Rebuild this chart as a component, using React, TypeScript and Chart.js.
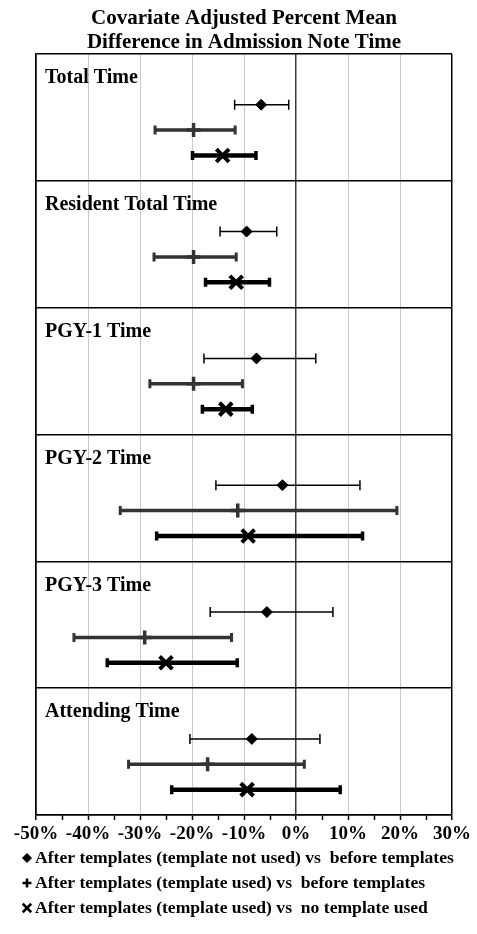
import React, { useEffect, useRef } from "react";
import { Chart, registerables } from "chart.js";
import { drawPoint } from "chart.js/helpers";

Chart.register(...registerables);

const chartTitle = ["Covariate Adjusted Percent Mean", "Difference in Admission Note Time"];
const panels = ["Total Time", "Resident Total Time", "PGY-1 Time", "PGY-2 Time", "PGY-3 Time", "Attending Time"];
const rowSlots = [2, 3, 4];
const panelUnits = 5;

const seriesNames = [
  "After templates (template not used) vs  before templates",
  "After templates (template used) vs  before templates",
  "After templates (template used) vs  no template used",
];

const notUsedMean = [-6.7, -9.5, -7.6, -2.6, -5.6, -8.5];
const notUsedLow = [-11.8, -14.6, -17.7, -15.4, -16.5, -20.4];
const notUsedHigh = [-1.4, -3.7, 3.8, 12.3, 7.1, 4.6];

const usedMean = [-19.7, -19.7, -19.7, -11.2, -29.1, -17.0];
const usedLow = [-27.1, -27.3, -28.1, -33.8, -42.7, -32.2];
const usedHigh = [-11.7, -11.5, -10.3, 19.4, -12.4, 1.6];

const vsNoneMean = [-14.1, -11.5, -13.5, -9.2, -25.0, -9.4];
const vsNoneLow = [-19.9, -17.4, -18.0, -26.8, -36.3, -23.9];
const vsNoneHigh = [-7.7, -5.1, -8.4, 12.8, -11.3, 8.5];

const xMin = -50;
const xMax = 30;

const FONT = "'Liberation Serif', 'Times New Roman', serif";

type Style = {
  color: string;
  pointStyle: string;
  radius: number;
  markerWidth: number;
  lineWidth: number;
  capWidth: number;
  capHalf: number;
  legendRadius: number;
  legendWidth: number;
};

const styles: Style[] = [
  { color: "#000000", pointStyle: "rectRot", radius: 5.5, markerWidth: 1, lineWidth: 1.5, capWidth: 1.5, capHalf: 5, legendRadius: 4.5, legendWidth: 1 },
  { color: "#333333", pointStyle: "cross", radius: 7, markerWidth: 3.5, lineWidth: 3.5, capWidth: 3, capHalf: 4.5, legendRadius: 4.5, legendWidth: 2.5 },
  { color: "#000000", pointStyle: "crossRot", radius: 9, markerWidth: 4, lineWidth: 4.5, capWidth: 3.5, capHalf: 4.5, legendRadius: 6, legendWidth: 2.5 },
];

const means = [notUsedMean, usedMean, vsNoneMean];
const lows = [notUsedLow, usedLow, vsNoneLow];
const highs = [notUsedHigh, usedHigh, vsNoneHigh];

const forestPlugin = {
  id: "forest",
  beforeDatasetsDraw(chart: any) {
    const { ctx, scales } = chart;
    const xs = scales.x;
    chart.data.datasets.forEach((ds: any, di: number) => {
      const meta = chart.getDatasetMeta(di);
      const st = styles[di];
      meta.data.forEach((pt: any, i: number) => {
        const y = pt.y;
        const x1 = xs.getPixelForValue(ds.lows[i]);
        const x2 = xs.getPixelForValue(ds.highs[i]);
        ctx.save();
        ctx.strokeStyle = st.color;
        ctx.lineWidth = st.lineWidth;
        ctx.beginPath();
        ctx.moveTo(x1, y);
        ctx.lineTo(x2, y);
        ctx.stroke();
        ctx.lineWidth = st.capWidth;
        ctx.beginPath();
        ctx.moveTo(x1, y - st.capHalf);
        ctx.lineTo(x1, y + st.capHalf);
        ctx.moveTo(x2, y - st.capHalf);
        ctx.lineTo(x2, y + st.capHalf);
        ctx.stroke();
        ctx.restore();
      });
    });
  },
  afterDraw(chart: any) {
    const { ctx, chartArea, scales } = chart;
    const ys = scales.y;
    ctx.save();
    ctx.fillStyle = "#000";
    ctx.textAlign = "center";
    ctx.textBaseline = "middle";
    ctx.font = `bold 21px ${FONT}`;
    const cx = (chartArea.left + chartArea.right) / 2;
    chartTitle.forEach((line, i) => ctx.fillText(line, cx, 19 + i * 24));

    ctx.textAlign = "left";
    ctx.font = `bold 20px ${FONT}`;
    panels.forEach((name, i) => {
      const top = ys.getPixelForValue(i * panelUnits);
      ctx.fillText(name, chartArea.left + 9, top + 24);
    });

    ctx.font = `bold 17.6px ${FONT}`;
    seriesNames.forEach((name, i) => {
      const y = chartArea.bottom + 43 + i * 25;
      const st = styles[i];
      ctx.fillStyle = "#000";
      ctx.strokeStyle = "#000";
      ctx.lineWidth = st.legendWidth;
      drawPoint(ctx, { pointStyle: st.pointStyle as any, radius: st.legendRadius, borderWidth: st.legendWidth, rotation: 0 } as any, 27, y);
      ctx.fillStyle = "#000";
      ctx.fillText(name, 35, y);
    });
    ctx.restore();
  },
};

export default function App() {
  const ref = useRef<HTMLCanvasElement>(null);
  useEffect(() => {
    if (!ref.current) return;
    const datasets = styles.map((st, di) => ({
      label: seriesNames[di],
      data: means[di].map((v, i) => ({ x: v, y: i * panelUnits + rowSlots[di] })),
      lows: lows[di],
      highs: highs[di],
      pointStyle: st.pointStyle,
      pointRadius: st.radius,
      pointHoverRadius: st.radius,
      pointBorderWidth: st.markerWidth,
      pointBackgroundColor: st.color,
      pointBorderColor: st.color,
      showLine: false,
    }));
    const chart = new Chart(ref.current, {
      type: "scatter",
      data: { datasets } as any,
      plugins: [forestPlugin],
      options: {
        animation: false,
        responsive: false,
        maintainAspectRatio: false,
        layout: { padding: { left: 36, right: 25, top: 54, bottom: 0 } },
        plugins: { legend: { display: false }, tooltip: { enabled: false }, title: { display: false } },
        scales: {
          x: {
            type: "linear",
            min: xMin,
            max: xMax,
            afterFit: (s: any) => { s.height = 119; },
            ticks: {
              stepSize: 5,
              autoSkip: false,
              maxRotation: 0,
              padding: 3,
              color: "#000",
              font: { family: FONT, size: 19, weight: "bold" },
              callback: (v: any) => (Number(v) % 10 === 0 ? `${v}%` : ""),
            },
            grid: {
              drawTicks: true,
              tickLength: 5,
              tickColor: "#000",
              tickWidth: 1.5,
              color: (c: any) => {
                const v = c.tick ? c.tick.value : 1;
                if (v === xMin || v === xMax) return "#000";
                if (v === 0) return "#3a3a3a";
                if (Math.abs(v % 10) !== 0) return "rgba(0,0,0,0)";
                return "#c8c8c8";
              },
              lineWidth: (c: any) => {
                const v = c.tick ? c.tick.value : 1;
                if (v === xMin || v === xMax) return 1.5;
                if (v === 0) return 1.5;
                return 1;
              },
            },
            border: { display: true, color: "#000", width: 1.5 },
          },
          y: {
            type: "linear",
            min: 0,
            max: panels.length * panelUnits,
            reverse: true,
            afterFit: (s: any) => { s.width = 0; },
            ticks: { display: false, stepSize: panelUnits },
            grid: { drawTicks: false, color: "#000", lineWidth: 1.5 },
            border: { display: true, color: "#000", width: 1.5 },
          },
        },
      } as any,
    });
    return () => chart.destroy();
  }, []);
  return (
    <div style={{ position: "fixed", left: 0, top: 0, width: 477, height: 934, background: "#fff" }}>
      <canvas ref={ref} width={477} height={934} style={{ width: 477, height: 934 }} />
    </div>
  );
}
